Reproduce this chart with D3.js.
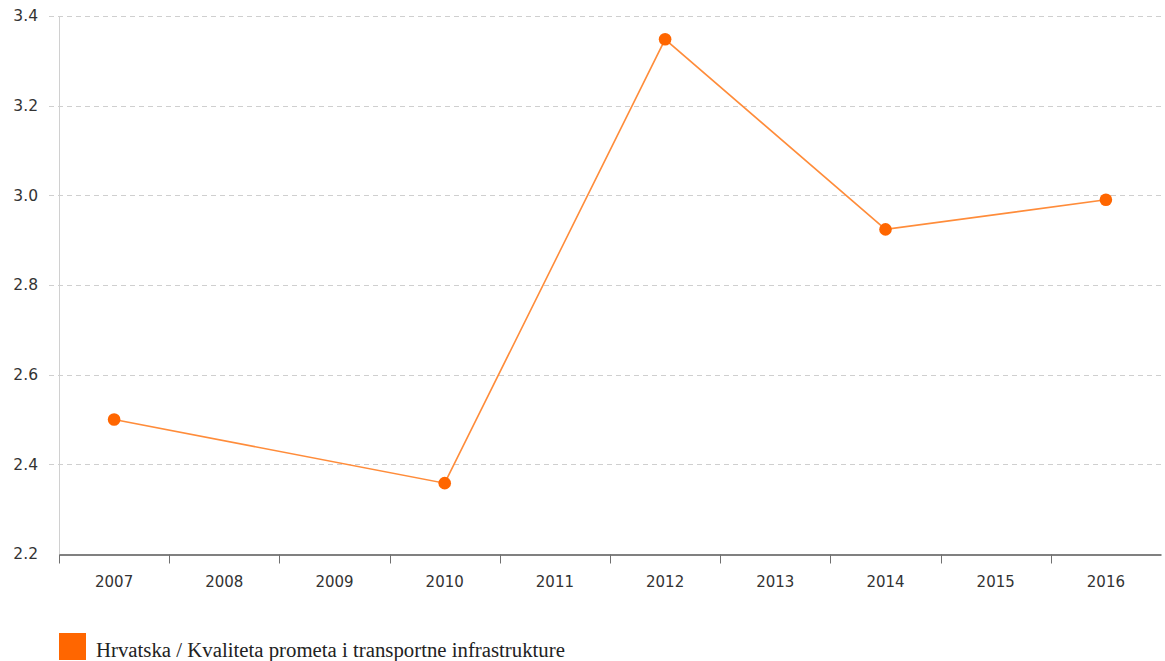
<!DOCTYPE html>
<html>
<head>
<meta charset="utf-8">
<script src="https://cdn.jsdelivr.net/npm/d3@7"></script>
<style>
  body { margin: 0; background: #fff; }
</style>
</head>
<body>
<div id="app"></div>
<script>
// data
var years = ['2007', '2008', '2009', '2010', '2011', '2012', '2013', '2014', '2015', '2016'];
var valueYears = ['2007', '2010', '2012', '2014', '2016'];
var values = [2.5, 2.358, 3.348, 2.924, 2.99];
var yTicks = [2.2, 2.4, 2.6, 2.8, 3.0, 3.2, 3.4];
var seriesName = 'Hrvatska / Kvaliteta prometa i transportne infrastrukture';

var width = 1165, height = 661;
var plotLeft = 59, plotRight = 1161, plotTop = 16, plotBottom = 554;
var color = '#ff6600';
var sans = '"DejaVu Sans", Tahoma, sans-serif';

var svg = d3.select('#app').append('svg')
  .attr('width', width)
  .attr('height', height);

var x = d3.scaleBand().domain(years).range([plotLeft, plotRight]);
var y = d3.scaleLinear().domain([2.2, 3.4]).range([plotBottom, plotTop]);

// grid
svg.append('g')
  .selectAll('line')
  .data(yTicks.slice(1))
  .enter()
  .append('line')
  .attr('x1', plotLeft - 10)
  .attr('x2', plotRight)
  .attr('y1', function (d) { return Math.round(y(d)) + 0.5; })
  .attr('y2', function (d) { return Math.round(y(d)) + 0.5; })
  .attr('stroke', '#cfcfcf')
  .attr('stroke-dasharray', '5,4');

// y axis line
svg.append('line')
  .attr('x1', plotLeft + 0.5).attr('x2', plotLeft + 0.5)
  .attr('y1', plotTop).attr('y2', plotBottom)
  .attr('stroke', '#d0d0d0');

// y labels
svg.append('g')
  .selectAll('text')
  .data(yTicks)
  .enter()
  .append('text')
  .attr('x', 38)
  .attr('y', function (d) { return y(d); })
  .attr('dy', '0.35em')
  .attr('text-anchor', 'end')
  .attr('font-family', sans)
  .attr('font-size', 15.5)
  .attr('fill', '#333')
  .text(function (d) { return d.toFixed(1); });

// x axis
var xAxis = d3.axisBottom(x).tickSize(0).tickPadding(22);
var gx = svg.append('g')
  .attr('transform', 'translate(0,' + (plotBottom + 0.5) + ')')
  .call(xAxis);
gx.select('.domain').attr('stroke', '#808080').attr('stroke-width', 2);
gx.selectAll('text')
  .attr('font-family', sans)
  .attr('font-size', 15)
  .attr('fill', '#333');

// band edge ticks
var edges = years.map(function (d) { return x(d); });
gx.selectAll('line.edge')
  .data(edges)
  .enter()
  .append('line')
  .attr('class', 'edge')
  .attr('x1', function (d) { return Math.round(d) + 0.5; })
  .attr('x2', function (d) { return Math.round(d) + 0.5; })
  .attr('y1', 0)
  .attr('y2', 9)
  .attr('stroke', '#707070');

// line
var pts = valueYears.map(function (d, i) { return [d, values[i]]; });
var line = d3.line()
  .x(function (d) { return x(d[0]) + x.bandwidth() / 2; })
  .y(function (d) { return y(d[1]); });

svg.append('path')
  .datum(pts)
  .attr('d', line)
  .attr('fill', 'none')
  .attr('stroke', '#ff8c3a')
  .attr('stroke-width', 1.6);

svg.append('g')
  .selectAll('circle')
  .data(pts)
  .enter()
  .append('circle')
  .attr('cx', function (d) { return x(d[0]) + x.bandwidth() / 2; })
  .attr('cy', function (d) { return y(d[1]); })
  .attr('r', 6.3)
  .attr('fill', color);

// legend
svg.append('rect')
  .attr('x', 59).attr('y', 633)
  .attr('width', 27).attr('height', 27)
  .attr('fill', color);

svg.append('text')
  .attr('x', 96)
  .attr('y', 657)
  .attr('font-family', '"Liberation Serif", "Times New Roman", serif')
  .attr('font-size', 20.8)
  .attr('fill', '#222')
  .text(seriesName);
</script>
</body>
</html>
